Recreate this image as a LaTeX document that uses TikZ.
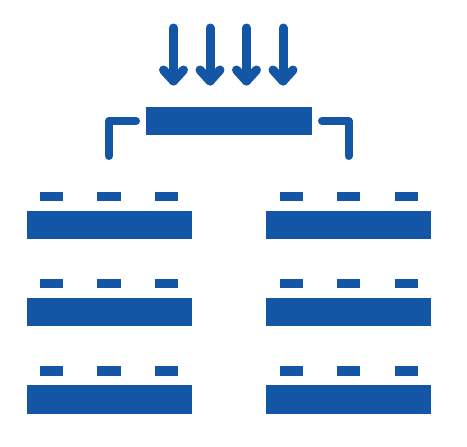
\documentclass[tikz,border=0pt]{standalone}
\usetikzlibrary{calc}
\definecolor{blu}{RGB}{18,86,165}
\begin{document}
\begin{tikzpicture}[x=1pt,y=-1pt,
  arr/.style={draw=blu,line width=9pt,line cap=round,line join=round},
  brk/.style={draw=blu,line width=8pt,line cap=round,line join=round}]
\useasboundingbox (0,0) rectangle (467,447);
% top arrows
\foreach \x/\n in {173.5/a1,210/a2,246.5/a3,283/a4}{
  \coordinate (\n t) at (\x,28);
  \coordinate (\n h) at (\x,81);
  \draw[arr] (\n t) -- (\n h);
  \draw[arr] ($(\n h)+(-10,-11)$) -- (\n h) -- ($(\n h)+(10,-11)$);
}
% top rectangle
\fill[blu] (146,107) rectangle (311.5,135);
% brackets
\coordinate (lb1) at (136,121); \coordinate (lb2) at (109,121); \coordinate (lb3) at (109,156);
\coordinate (rb1) at (322,121); \coordinate (rb2) at (348.5,121); \coordinate (rb3) at (348.5,156);
\draw[brk] (lb1) -- (lb2) -- (lb3);
\draw[brk] (rb1) -- (rb2) -- (rb3);
% rows
\foreach \y in {0,87.2,174.4}{
  \foreach \x in {26.7,266.3}{
    \fill[blu] (\x,210.7+\y) rectangle ++(165,28.5);
    \foreach \s in {13.3,70.6,128.3}{
      \fill[blu] (\x+\s,191.8+\y) rectangle ++(23.4,9.3);
    }
  }
}
\end{tikzpicture}
\end{document}
